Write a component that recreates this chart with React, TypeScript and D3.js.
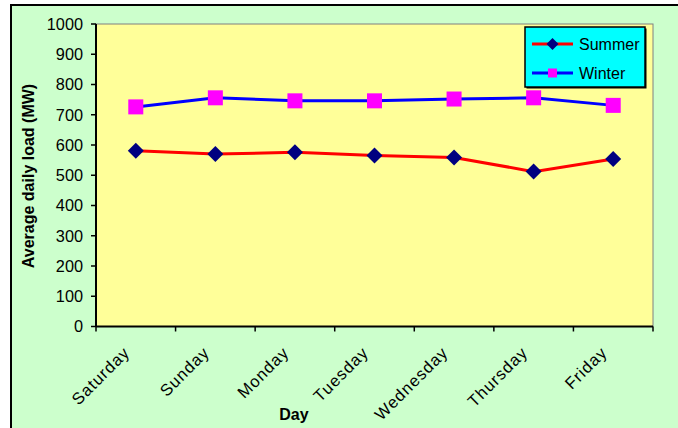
import React from "react";
import * as d3 from "d3";

const days = ["Saturday", "Sunday", "Monday", "Tuesday", "Wednesday", "Thursday", "Friday"];
const summer = [581, 570, 576, 565, 559, 512, 554];
const winter = [726, 756, 746, 746, 752, 756, 731];
const yTicks = [0, 100, 200, 300, 400, 500, 600, 700, 800, 900, 1000];

const W = 678;
const H = 428;
const plot = { left: 96, top: 24, right: 653, bottom: 326.5 };
const FONT = "'Liberation Sans', Arial, sans-serif";

export default function App() {
  const x = d3
    .scaleBand<string>()
    .domain(days)
    .range([plot.left, plot.right]);
  const y = d3.scaleLinear().domain([0, 1000]).range([plot.bottom, plot.top]);
  const cx = (d: string) => (x(d) ?? 0) + x.bandwidth() / 2;

  const line = d3
    .line<number>()
    .x((_, i) => cx(days[i]))
    .y((v) => y(v));

  const diamond = (px: number, py: number, r: number) =>
    `M${px},${py - r}L${px + r},${py}L${px},${py + r}L${px - r},${py}Z`;

  const bandEdges = days.map((d) => x(d) ?? 0).concat([plot.right]);

  return (
    <svg
      width={W}
      height={H}
      style={{ position: "absolute", left: 0, top: 0 }}
      fontFamily={FONT}
    >
      {/* chart area */}
      <rect x={0} y={0} width={W} height={H} fill="#ffffff" />
      <rect x={11} y={5} width={W + 20} height={H + 20} fill="#CCFFCC" stroke="#000" strokeWidth={2} />

      {/* plot area */}
      <rect
        x={plot.left}
        y={plot.top}
        width={plot.right - plot.left}
        height={plot.bottom - plot.top}
        fill="#FFFF99"
        stroke="#808080"
        strokeWidth={1}
      />

      {/* y axis */}
      <line x1={plot.left} x2={plot.left} y1={plot.top} y2={plot.bottom} stroke="#000" strokeWidth={2} />
      {yTicks.map((t) => (
        <g key={t}>
          <line x1={plot.left - 5} x2={plot.left} y1={y(t)} y2={y(t)} stroke="#000" strokeWidth={1.5} />
          <text x={83} y={y(t)} dy="0.36em" textAnchor="end" fontSize={16.3} fill="#000">
            {t}
          </text>
        </g>
      ))}

      {/* x axis */}
      <line x1={plot.left} x2={plot.right} y1={plot.bottom} y2={plot.bottom} stroke="#000" strokeWidth={2} />
      {bandEdges.map((e, i) => (
        <line key={i} x1={e} x2={e} y1={plot.bottom} y2={plot.bottom + 5} stroke="#000" strokeWidth={1.5} />
      ))}
      {days.map((d) => (
        <text
          key={d}
          transform={`translate(${cx(d) - 9},${plot.bottom + 23}) rotate(-45)`}
          textAnchor="end"
          dy="0.35em"
          fontSize={16.5}
          letterSpacing={1}
          fill="#000"
        >
          {d}
        </text>
      ))}

      {/* axis titles */}
      <text x={294} y={420} textAnchor="middle" fontSize={16} fontWeight="bold" fill="#000">
        Day
      </text>
      <text
        transform={`translate(34,176) rotate(-90)`}
        textAnchor="middle"
        fontSize={16}
        fontWeight="bold"
        fill="#000"
      >
        Average daily load (MW)
      </text>

      {/* series */}
      <path d={line(summer) ?? ""} fill="none" stroke="#FF0000" strokeWidth={3} />
      <path d={line(winter) ?? ""} fill="none" stroke="#0000FF" strokeWidth={3} />
      {summer.map((v, i) => (
        <path key={`s${i}`} d={diamond(cx(days[i]), y(v), 8)} fill="#000080" />
      ))}
      {winter.map((v, i) => (
        <rect
          key={`w${i}`}
          x={cx(days[i]) - 7.5}
          y={y(v) - 7.5}
          width={15}
          height={15}
          fill="#FF00FF"
        />
      ))}

      {/* legend */}
      <rect x={526.5} y={28.5} width={120} height={60} fill="#000" />
      <rect x={525} y={27} width={120} height={60} fill="#00FFFF" stroke="#000" strokeWidth={1.5} />
      <line x1={532} x2={573} y1={44} y2={44} stroke="#FF0000" strokeWidth={3} />
      <path d={diamond(552.5, 44, 6)} fill="#000080" />
      <text x={579} y={44} dy="0.36em" fontSize={16} fill="#000">
        Summer
      </text>
      <line x1={532} x2={573} y1={73} y2={73} stroke="#0000FF" strokeWidth={3} />
      <rect x={548} y={68.5} width={9} height={9} fill="#FF00FF" />
      <text x={579} y={73} dy="0.36em" fontSize={16} fill="#000">
        Winter
      </text>
    </svg>
  );
}
